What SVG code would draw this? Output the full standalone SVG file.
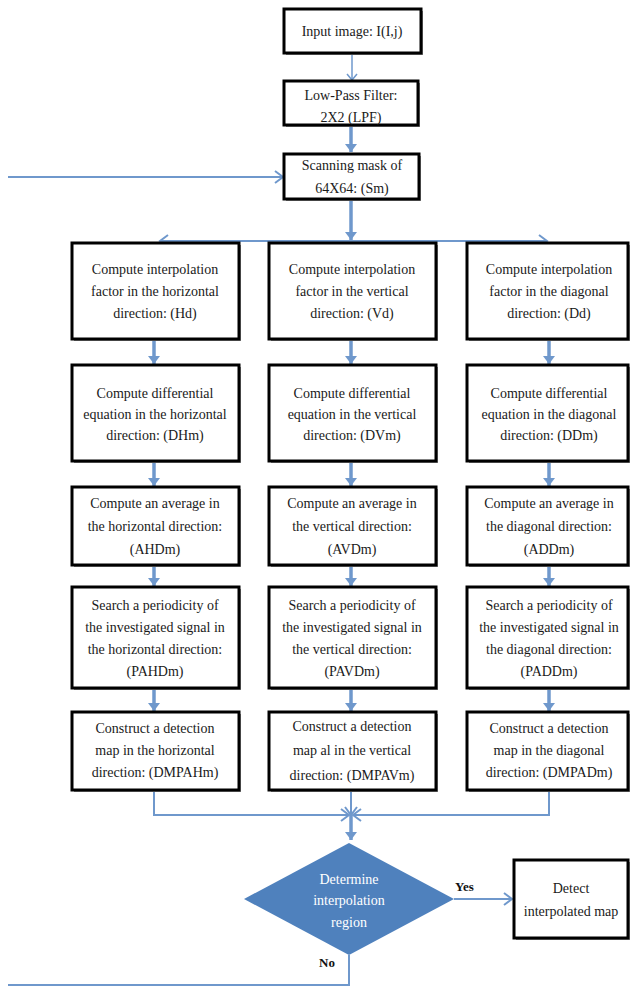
<svg xmlns="http://www.w3.org/2000/svg" width="630" height="991" viewBox="0 0 630 991">
<style>
.sh{fill:#8a8a8a}
.box{fill:#fff;stroke:#000;stroke-width:3}
.t{font-family:"Liberation Serif",serif;font-size:14px;text-anchor:middle;fill:#1a1a1a}
.w{fill:#fff}
.lbl{font-family:"Liberation Serif",serif;font-size:13px;font-weight:bold;fill:#111}
.c{stroke:#6F98CC;fill:none;stroke-width:2}
.k{stroke:#6F98CC;fill:none;stroke-width:3.5}
</style>
<defs>
<marker id="ah" markerUnits="userSpaceOnUse" markerWidth="14" markerHeight="12" refX="8" refY="6" orient="auto"><path d="M0,0 L8,6 L0,12 z" fill="#6F98CC"/></marker>
<marker id="ch" markerUnits="userSpaceOnUse" markerWidth="12" markerHeight="14" refX="9" refY="7" orient="auto"><path d="M1,1 L9,7 L1,13" fill="none" stroke="#6F98CC" stroke-width="2"/></marker>
<marker id="chs" markerUnits="userSpaceOnUse" markerWidth="10" markerHeight="12" refX="7" refY="6" orient="auto"><path d="M1,1 L7,6 L1,11" fill="none" stroke="#6F98CC" stroke-width="1.5"/></marker>
</defs>

<g id="connectors">
<path class="c" style="stroke-width:1.5" d="M352,54 V80" marker-end="url(#chs)"/>
<path class="k" d="M351,126 V152" marker-end="url(#ah)"/>
<path class="c" d="M8,177 H283" marker-end="url(#ch)"/>
<path class="k" d="M351,200 V240" marker-end="url(#ah)"/>
<path class="c" d="M351,241 H160" marker-end="url(#ch)"/>
<path class="c" d="M351,241 H547" marker-end="url(#ch)"/>
<path class="k" d="M154,340 V364" marker-end="url(#ah)"/>
<path class="k" d="M154,462 V486" marker-end="url(#ah)"/>
<path class="k" d="M154,566 V586" marker-end="url(#ah)"/>
<path class="k" d="M154,689 V711" marker-end="url(#ah)"/>
<path class="k" d="M351,340 V364" marker-end="url(#ah)"/>
<path class="k" d="M351,462 V486" marker-end="url(#ah)"/>
<path class="k" d="M351,566 V586" marker-end="url(#ah)"/>
<path class="k" d="M351,689 V711" marker-end="url(#ah)"/>
<path class="k" d="M549,340 V364" marker-end="url(#ah)"/>
<path class="k" d="M549,462 V486" marker-end="url(#ah)"/>
<path class="k" d="M549,566 V586" marker-end="url(#ah)"/>
<path class="k" d="M549,689 V711" marker-end="url(#ah)"/>
<path class="c" d="M154,791 V815 H349" marker-end="url(#ch)"/>
<path class="c" d="M549,791 V815 H353" marker-end="url(#ch)"/>
<path class="c" d="M351,791 V815" marker-end="url(#ch)"/>
<path class="k" d="M351,815 V840" marker-end="url(#ah)"/>
<path class="c" d="M454,899 H512" marker-end="url(#ch)"/>
<path class="c" d="M349,955 V985 H8"/>
</g>

<g id="input">
<rect class="sh" x="286" y="11" width="137" height="44"/>
<rect class="box" x="284" y="9" width="137" height="44"/>
<text class="t" x="352" y="36">Input image: I(I,j)</text>
</g>
<g id="lpf">
<rect class="sh" x="286" y="83" width="134" height="44"/>
<rect class="box" x="284" y="81" width="134" height="44"/>
<text class="t" x="351" y="100">Low-Pass Filter:</text>
<text class="t" x="351" y="122">2X2 (LPF)</text>
</g>
<g id="scan">
<rect class="sh" x="286" y="156" width="135" height="45"/>
<rect class="box" x="284" y="154" width="135" height="45"/>
<text class="t" x="352" y="170">Scanning mask of</text>
<text class="t" x="352" y="193">64X64: (Sm)</text>
</g>

<g id="hd">
<rect class="sh" x="74" y="245" width="167" height="96"/>
<rect class="box" x="72" y="243" width="167" height="96"/>
<text class="t" x="155" y="274">Compute interpolation</text>
<text class="t" x="155" y="296">factor in the horizontal</text>
<text class="t" x="155" y="318">direction: (Hd)</text>
</g>
<g id="vd">
<rect class="sh" x="271" y="245" width="167" height="96"/>
<rect class="box" x="269" y="243" width="167" height="96"/>
<text class="t" x="352" y="274">Compute interpolation</text>
<text class="t" x="352" y="296">factor in the vertical</text>
<text class="t" x="352" y="318">direction: (Vd)</text>
</g>
<g id="dd">
<rect class="sh" x="469" y="245" width="161" height="96"/>
<rect class="box" x="467" y="243" width="161" height="96"/>
<text class="t" x="549" y="274">Compute interpolation</text>
<text class="t" x="549" y="296">factor in the diagonal</text>
<text class="t" x="549" y="318">direction: (Dd)</text>
</g>

<g id="dhm">
<rect class="sh" x="74" y="367" width="167" height="96"/>
<rect class="box" x="72" y="365" width="167" height="96"/>
<text class="t" x="155" y="398">Compute differential</text>
<text class="t" x="155" y="419">equation in the horizontal</text>
<text class="t" x="155" y="440">direction: (DHm)</text>
</g>
<g id="dvm">
<rect class="sh" x="271" y="367" width="167" height="96"/>
<rect class="box" x="269" y="365" width="167" height="96"/>
<text class="t" x="352" y="398">Compute differential</text>
<text class="t" x="352" y="419">equation in the vertical</text>
<text class="t" x="352" y="440">direction: (DVm)</text>
</g>
<g id="ddm">
<rect class="sh" x="469" y="367" width="161" height="96"/>
<rect class="box" x="467" y="365" width="161" height="96"/>
<text class="t" x="549" y="398">Compute differential</text>
<text class="t" x="549" y="419">equation in the diagonal</text>
<text class="t" x="549" y="440">direction: (DDm)</text>
</g>

<g id="ahdm">
<rect class="sh" x="74" y="489" width="167" height="78"/>
<rect class="box" x="72" y="487" width="167" height="78"/>
<text class="t" x="155" y="508">Compute an average in</text>
<text class="t" x="155" y="531">the horizontal direction:</text>
<text class="t" x="155" y="554">(AHDm)</text>
</g>
<g id="avdm">
<rect class="sh" x="271" y="489" width="167" height="78"/>
<rect class="box" x="269" y="487" width="167" height="78"/>
<text class="t" x="352" y="508">Compute an average in</text>
<text class="t" x="352" y="531">the vertical direction:</text>
<text class="t" x="352" y="554">(AVDm)</text>
</g>
<g id="addm">
<rect class="sh" x="469" y="489" width="161" height="78"/>
<rect class="box" x="467" y="487" width="161" height="78"/>
<text class="t" x="549" y="508">Compute an average in</text>
<text class="t" x="549" y="531">the diagonal direction:</text>
<text class="t" x="549" y="554">(ADDm)</text>
</g>

<g id="pahdm">
<rect class="sh" x="74" y="589" width="167" height="101"/>
<rect class="box" x="72" y="587" width="167" height="101"/>
<text class="t" x="155" y="610">Search a periodicity of</text>
<text class="t" x="155" y="632">the investigated signal  in</text>
<text class="t" x="155" y="654">the horizontal direction:</text>
<text class="t" x="155" y="676">(PAHDm)</text>
</g>
<g id="pavdm">
<rect class="sh" x="271" y="589" width="167" height="101"/>
<rect class="box" x="269" y="587" width="167" height="101"/>
<text class="t" x="352" y="610">Search a periodicity of</text>
<text class="t" x="352" y="632">the investigated signal in</text>
<text class="t" x="352" y="654">the vertical direction:</text>
<text class="t" x="352" y="676">(PAVDm)</text>
</g>
<g id="paddm">
<rect class="sh" x="469" y="589" width="161" height="101"/>
<rect class="box" x="467" y="587" width="161" height="101"/>
<text class="t" x="549" y="610">Search a periodicity of</text>
<text class="t" x="549" y="632">the investigated signal in</text>
<text class="t" x="549" y="654">the diagonal direction:</text>
<text class="t" x="549" y="676">(PADDm)</text>
</g>

<g id="dmpahm">
<rect class="sh" x="74" y="714" width="167" height="78"/>
<rect class="box" x="72" y="712" width="167" height="78"/>
<text class="t" x="155" y="733">Construct a detection</text>
<text class="t" x="155" y="755">map in the horizontal</text>
<text class="t" x="155" y="777">direction: (DMPAHm)</text>
</g>
<g id="dmpavm">
<rect class="sh" x="271" y="714" width="167" height="78"/>
<rect class="box" x="269" y="712" width="167" height="78"/>
<text class="t" x="352" y="731">Construct a detection</text>
<text class="t" x="352" y="755">map al in the vertical</text>
<text class="t" x="352" y="780">direction: (DMPAVm)</text>
</g>
<g id="dmpadm">
<rect class="sh" x="469" y="714" width="161" height="78"/>
<rect class="box" x="467" y="712" width="161" height="78"/>
<text class="t" x="549" y="733">Construct a detection</text>
<text class="t" x="549" y="755">map in the diagonal</text>
<text class="t" x="549" y="777">direction: (DMPADm)</text>
</g>

<g id="decision">
<polygon points="349,843 454,899 349,955 244,899" fill="#4F81BD"/>
<text class="t w" x="349" y="884">Determine</text>
<text class="t w" x="349" y="905">interpolation</text>
<text class="t w" x="349" y="927">region</text>
<text class="lbl" x="455" y="891">Yes</text>
<text class="lbl" x="319" y="967">No</text>
</g>

<g id="detect">
<rect class="sh" x="516" y="862" width="114" height="78"/>
<rect class="box" x="514" y="860" width="114" height="78"/>
<text class="t" x="571" y="893">Detect</text>
<text class="t" x="571" y="916">interpolated map</text>
</g>
</svg>
